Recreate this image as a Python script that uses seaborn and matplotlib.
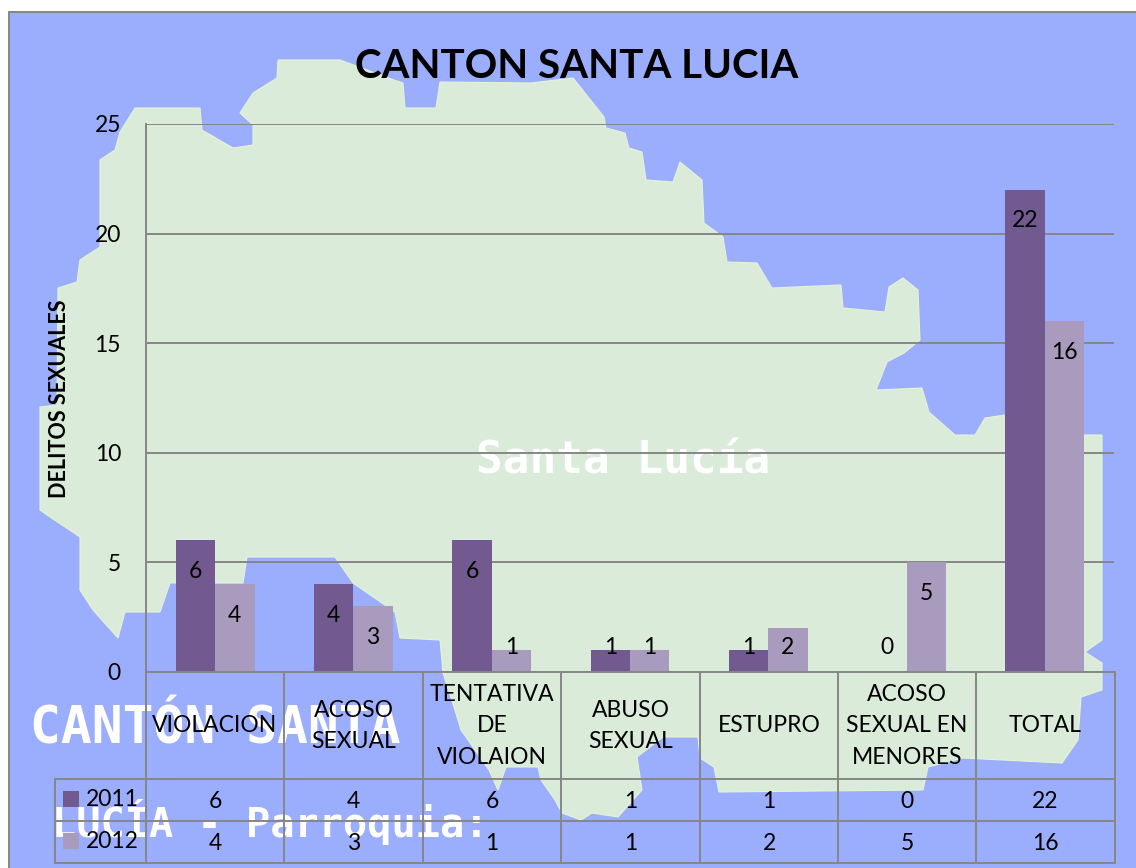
import pandas as pd
import matplotlib.pyplot as plt
from matplotlib.patches import Polygon, Rectangle
import seaborn as sns

# datos
delitos = ["VIOLACION", "ACOSO\nSEXUAL", "TENTATIVA\nDE\nVIOLAION", "ABUSO\nSEXUAL",
           "ESTUPRO", "ACOSO\nSEXUAL EN\nMENORES", "TOTAL"]
casos_2011 = [6, 4, 6, 1, 1, 0, 22]
casos_2012 = [4, 3, 1, 1, 2, 5, 16]
anios = ["2011", "2012"]
y_ticks = [0, 5, 10, 15, 20, 25]

AZUL = "#9BAEFD"
VERDE = "#DAEBD9"
GRIS = "#868686"
COLORES = ["#725990", "#A99BBD"]

# contorno del mapa de fondo, en pixeles de la imagen
mapa = [(340, 60), (394, 80), (403, 83), (405, 108), (436, 108), (440, 82), (531, 83), (573, 78),
        (585, 93), (604, 117), (606, 128), (625, 133), (629, 148), (642, 152), (646, 180), (673, 182),
        (680, 162), (702, 180), (704, 223), (723, 237), (727, 262), (757, 263), (772, 288), (841, 285),
        (843, 308), (885, 312), (889, 287), (903, 278), (918, 290), (920, 340), (904, 353), (887, 362),
        (876, 390), (922, 388), (929, 412), (955, 435), (975, 435), (985, 418), (1005, 415), (1085, 435),
        (1102, 435), (1102, 640), (1085, 652), (1102, 663), (1102, 690), (1081, 697), (1078, 740),
        (1062, 763), (963, 758), (928, 767), (923, 790), (719, 792), (714, 767), (700, 758), (698, 737),
        (663, 737), (637, 757), (642, 790), (618, 817), (592, 813), (581, 820), (562, 813), (555, 800),
        (541, 780), (538, 767), (506, 767), (498, 790), (489, 770), (461, 730), (454, 707), (443, 673),
        (440, 640), (400, 638), (395, 612), (353, 583), (335, 557), (247, 557), (243, 583), (170, 583),
        (160, 612), (125, 612), (118, 638), (93, 610), (80, 590), (80, 537), (50, 517), (40, 510),
        (40, 407), (57, 405), (58, 288), (77, 282), (80, 260), (100, 247), (100, 160), (115, 150),
        (120, 132), (135, 108), (200, 108), (202, 130), (233, 148), (253, 145), (253, 125), (240, 113),
        (253, 93), (277, 78), (278, 60)]

sns.set_theme(style="white")
plt.rcParams["font.family"] = ["Lato", "DejaVu Sans"]

W, H = 1136, 868
fig = plt.figure(figsize=(W / 100, H / 100), dpi=100, facecolor="white")

# fondo y tabla en pixeles
bg = fig.add_axes([0, 0, 1, 1])
bg.set_xlim(0, W)
bg.set_ylim(H, 0)
bg.axis("off")
bg.add_patch(Rectangle((9, 12), 1300, 1000, fc=AZUL, ec=GRIS, lw=1.4))
bg.add_patch(Polygon(mapa, closed=True, fc=VERDE, ec="#E6F3D6", lw=0.8))

mono = "DejaVu Sans Mono"
bg.text(623, 461, "Santa Lucía", color="white", fontsize=32, fontweight="bold",
        family=mono, ha="center", va="center", zorder=1.5)
bg.text(215, 730, "CANTÓN SANTA", color="white", fontsize=37, fontweight="bold",
        family=mono, ha="center", va="center", zorder=1.5)
bg.text(270, 822, "LUCÍA - Parroquia:", color="white", fontsize=29, fontweight="bold",
        family=mono, ha="center", va="center", zorder=1.5)

bg.text(577, 66, "CANTON SANTA LUCIA", fontsize=29, fontweight="bold", color="black",
        ha="center", va="center")
bg.text(60, 399, "DELITOS SEXUALES", fontsize=15.5, fontweight="bold", color="black",
        rotation=90, ha="center", va="center")

# lineas de la tabla
cols = [146, 284, 423, 561, 700, 838, 976, 1115]
filas = [672, 779, 821, 863]
for x in cols:
    bg.plot([x, x], [filas[0], filas[-1]], color=GRIS, lw=1.4)
for y in filas[1:]:
    bg.plot([55, cols[-1]], [y, y], color=GRIS, lw=1.4)
bg.plot([55, 55], [filas[1], filas[-1]], color=GRIS, lw=1.4)

for i, d in enumerate(delitos):
    xc = (cols[i] + cols[i + 1]) / 2
    bg.text(xc, 726, d, fontsize=16.5, color="black", ha="center", va="center", linespacing=1.6)
    bg.text(xc, 802, str(casos_2011[i]), fontsize=16.5, color="black", ha="center", va="center")
    bg.text(xc, 844, str(casos_2012[i]), fontsize=16.5, color="black", ha="center", va="center")

for yc, anio, color in zip([799, 841], anios, COLORES):
    bg.add_patch(Rectangle((63, yc - 8), 16, 16, fc=color, ec="none", zorder=4))
    bg.text(86, yc + 1, anio, fontsize=16.5, color="black", ha="left", va="center")

# barras
df = pd.DataFrame({
    "delito": delitos * 2,
    "anio": [anios[0]] * len(delitos) + [anios[1]] * len(delitos),
    "casos": casos_2011 + casos_2012,
})

ax = fig.add_axes([146 / W, 1 - 672 / H, (1114 - 146) / W, (672 - 124) / H])
ax.patch.set_alpha(0)
sns.barplot(data=df, x="delito", y="casos", hue="anio", palette=COLORES, width=0.57,
            saturation=1, legend=False, linewidth=0, ax=ax)
ax.set_ylim(0, 25)
ax.set_yticks(y_ticks)
ax.set_xticks([])
ax.set_xlabel("")
ax.set_ylabel("")
ax.grid(axis="y", color=GRIS, lw=1.4)
ax.set_axisbelow(True)
ax.tick_params(axis="y", length=0, pad=18, labelsize=16.5, labelcolor="black")
for side in ["top", "right"]:
    ax.spines[side].set_visible(False)
for side in ["left", "bottom"]:
    ax.spines[side].set_color(GRIS)
    ax.spines[side].set_linewidth(1.4)

# etiquetas dentro de las barras
for cont in ax.containers:
    for bar in cont:
        v = bar.get_height()
        ax.text(bar.get_x() + bar.get_width() / 2, max(v - 1.42, 1.13), f"{v:.0f}",
                fontsize=16.5, color="black", ha="center", va="center")

fig.savefig("out.png", dpi=100)
